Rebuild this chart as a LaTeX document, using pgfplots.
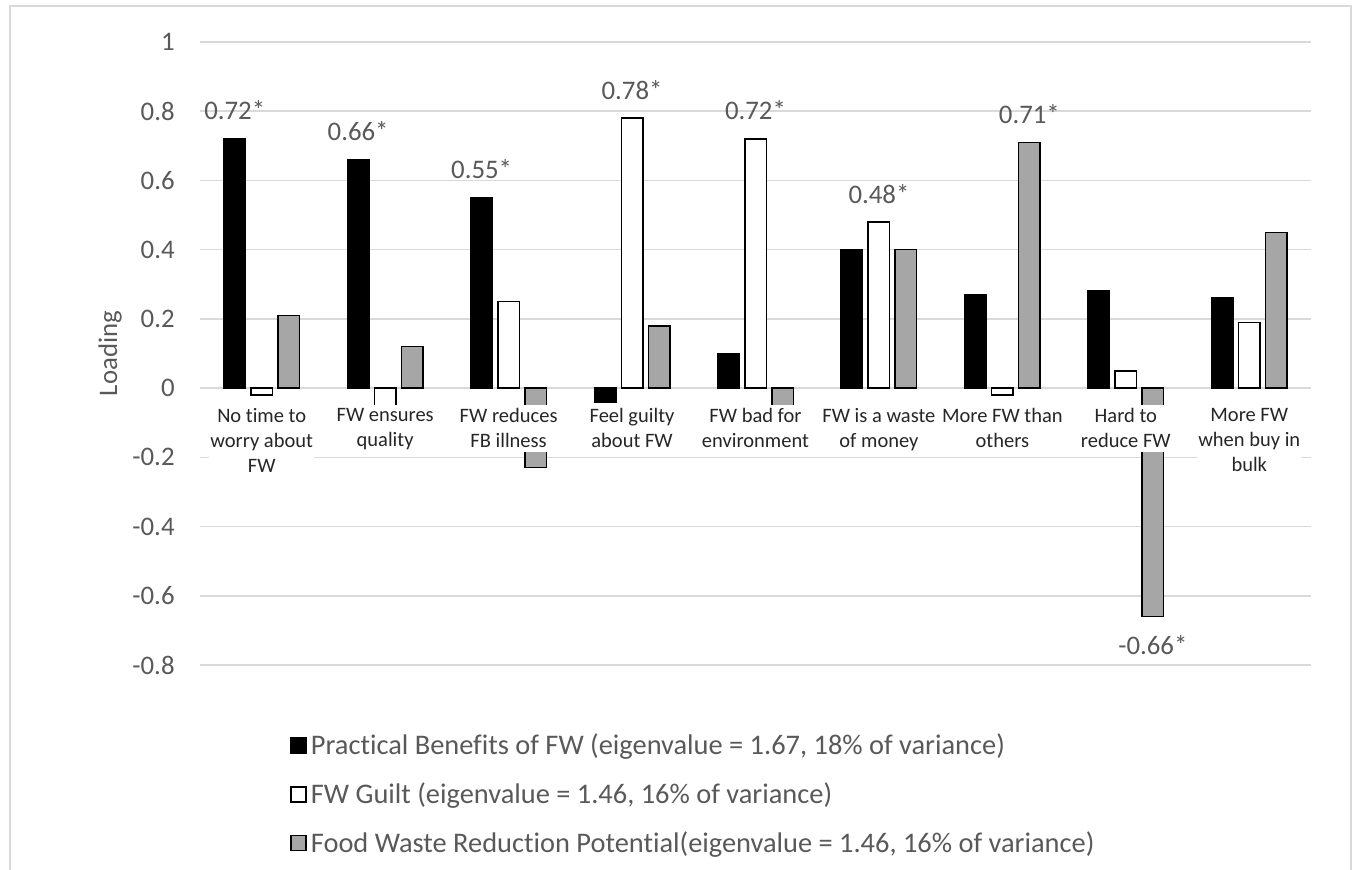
\documentclass[border=0pt]{standalone}
\usepackage{fontspec}
\setmainfont{Carlito}[Ligatures=NoCommon]
\usepackage{pgfplots}
\pgfplotsset{compat=1.18}
\definecolor{txt}{HTML}{595959}
\definecolor{catc}{HTML}{262626}
\definecolor{gridc}{HTML}{D9D9D9}
\definecolor{barg}{HTML}{A6A6A6}
\pgfplotsset{
  loadbox/.style={scale only axis, width=555.5pt, height=311.5pt,
    xmin=-0.5, xmax=8.5, ymin=-0.8, ymax=1,
    axis line style={draw=none}, major tick length=0pt},
}

\begin{document}
\begin{tikzpicture}
\useasboundingbox (-100pt,-102pt) rectangle (577pt,332.5pt);
\begin{axis}[
  loadbox,
  ybar=2.75pt, bar width=10.75pt,
  xtick={0,...,8}, xticklabels={},
  ytick={-0.8,-0.6,-0.4,-0.2,0,0.2,0.4,0.6,0.8,1},
  yticklabels={-0.8,-0.6,-0.4,-0.2,0,0.2,0.4,0.6,0.8,1},
  yticklabel style={font=\fontsize{13.4}{16}\selectfont, text=txt, anchor=east,
    inner sep=0pt, xshift=-12.5pt},
  ymajorgrids, grid style={gridc, line width=0.75pt},
  ylabel={Loading},
  ylabel style={font=\fontsize{13.4}{16}\selectfont, text=txt,
    at={(axis description cs:-0.081,0.5)}, anchor=center},
  nodes near coords, point meta=explicit symbolic,
  nodes near coords style={font=\fontsize{13.4}{16}\selectfont, text=txt,
    inner xsep=0pt, inner ysep=9pt, anchor=south},
  legend style={at={(axis description cs:0.081,0)}, anchor=north west, yshift=-32pt,
    draw=none, fill=none, font=\fontsize{14.2}{16}\selectfont, text=txt,
    row sep=8.6pt, inner sep=0pt},
  legend cell align=left,
  legend image code/.code={\draw[#1] (0pt,-3.75pt) rectangle (7.5pt,3.75pt);},
]
\addplot[fill=black, draw=black, line width=0.75pt, bar shift=-13.5pt] coordinates {
  (0,0.72) [0.72*] (1,0.66) [0.66*] (2,0.55) [0.55*] (3,-0.04) [] (4,0.10) []
  (5,0.40) [] (6,0.27) [] (7,0.28) [] (8,0.26) []};
\addlegendentry{Practical Benefits of FW (eigenvalue = 1.67, 18\% of variance)}
\addplot[fill=white, draw=black, line width=0.75pt, bar shift=0pt] coordinates {
  (0,-0.02) [] (1,-0.05) [] (2,0.25) [] (3,0.78) [0.78*] (4,0.72) [0.72*]
  (5,0.48) [0.48*] (6,-0.02) [] (7,0.05) [] (8,0.19) []};
\addlegendentry{FW Guilt (eigenvalue = 1.46, 16\% of variance)}
\addplot[fill=barg, draw=black, line width=0.75pt, bar shift=13.5pt] coordinates {
  (0,0.21) [] (1,0.12) [] (2,-0.23) [] (3,0.18) [] (4,-0.05) []
  (5,0.40) [] (6,0.71) [0.71*] (8,0.45) []};
\addlegendentry{Food Waste Reduction Potential(eigenvalue = 1.46, 16\% of variance)}
\addplot[fill=barg, draw=black, line width=0.75pt, bar shift=13.5pt, forget plot,
  nodes near coords style={anchor=north}] coordinates {(7,-0.66) [-0.66*]};
\end{axis}
% category labels on top of the bars (white boxes, as in the original)
\begin{axis}[
  loadbox,
  xtick={0,...,8}, ytick=\empty,
  xticklabels={{No time to\\worry about\\FW},{FW ensures\\quality},{FW reduces\\FB illness},
    {Feel guilty\\about FW},{FW bad for\\environment},{FW is a waste\\of money},
    {More FW than\\others},{Hard to\\reduce FW},{More FW\\when buy in\\bulk}},
  xticklabel style={font=\fontsize{10.25}{12.5}\selectfont, text=catc, align=center,
    fill=white, inner xsep=0.5pt, inner ysep=2pt, anchor=north, yshift=130.4pt},
]
\end{axis}
\draw[gridc, line width=1pt] (-95pt,-110pt) -- (-95pt,329.5pt) -- (575.5pt,329.5pt) -- (575.5pt,-110pt);
\end{tikzpicture}
\end{document}
